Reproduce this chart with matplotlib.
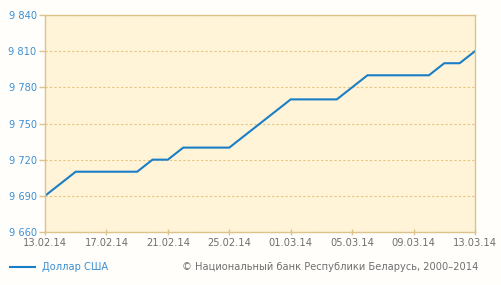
import matplotlib
matplotlib.use("Agg")
import matplotlib.pyplot as plt
from matplotlib.ticker import FuncFormatter
import numpy as np

# Official BYR / USD rate, daily
dates = ["13.02.14", "14.02.14", "15.02.14", "16.02.14", "17.02.14", "18.02.14",
         "19.02.14", "20.02.14", "21.02.14", "22.02.14", "23.02.14", "24.02.14",
         "25.02.14", "26.02.14", "27.02.14", "28.02.14", "01.03.14", "02.03.14",
         "03.03.14", "04.03.14", "05.03.14", "06.03.14", "07.03.14", "08.03.14",
         "09.03.14", "10.03.14", "11.03.14", "12.03.14", "13.03.14"]
usd = [9690, 9700, 9710, 9710, 9710, 9710, 9710, 9720, 9720, 9730, 9730, 9730,
       9730, 9740, 9750, 9760, 9770, 9770, 9770, 9770, 9780, 9790, 9790, 9790,
       9790, 9790, 9800, 9800, 9810]
y_ticks = [9660, 9690, 9720, 9750, 9780, 9810, 9840]

LINE = "#1a7ec6"
BLUE_TXT = "#3c8fd2"
GRAY_TXT = "#6f6f6f"
GRID = "#e6c47e"
SPINE = "#dcc38c"
FS = 7.1

fig = plt.figure(figsize=(5.02, 2.85), dpi=100)
fig.patch.set_facecolor("#fffefb")
ax = fig.add_axes([45 / 502, 53 / 285, 430 / 502, 217 / 285])
ax.set_facecolor("#fff3d8")

xs = np.arange(len(dates))
ax.plot(xs, usd, color=LINE, lw=1.5, solid_joinstyle="miter")

ax.set_xlim(0, len(dates) - 1)
ax.set_ylim(y_ticks[0], y_ticks[-1])
ax.set_yticks(y_ticks)
ax.yaxis.set_major_formatter(FuncFormatter(lambda v, p: f"{int(v):,}".replace(",", " ")))
ax.set_xticks(xs[::4])
ax.set_xticklabels(dates[::4])

for s in ["top", "right", "left", "bottom"]:
    ax.spines[s].set_color(SPINE)
    ax.spines[s].set_linewidth(1.0)

ax.tick_params(axis="y", colors=SPINE, labelcolor=BLUE_TXT, labelsize=FS,
               length=4, width=1, pad=2)
ax.tick_params(axis="x", colors=SPINE, labelcolor=GRAY_TXT, labelsize=FS,
               length=4, width=1, pad=2, direction="inout")
ax.grid(axis="y", color=GRID, ls=(0, (2, 2)), lw=0.8)
ax.set_axisbelow(True)

# bottom legend + source
fig.lines.append(plt.Line2D([10 / 502, 35 / 502], [18 / 285, 18 / 285],
                            color=LINE, lw=1.5, transform=fig.transFigure))
fig.text(42 / 502, 18 / 285, "Доллар США", color=BLUE_TXT, fontsize=FS,
         va="center", ha="left")
fig.text(478 / 502, 18 / 285, "© Национальный банк Республики Беларусь, 2000–2014",
         color=GRAY_TXT, fontsize=FS, va="center", ha="right")

fig.savefig("out.png", dpi=100, facecolor=fig.get_facecolor())
